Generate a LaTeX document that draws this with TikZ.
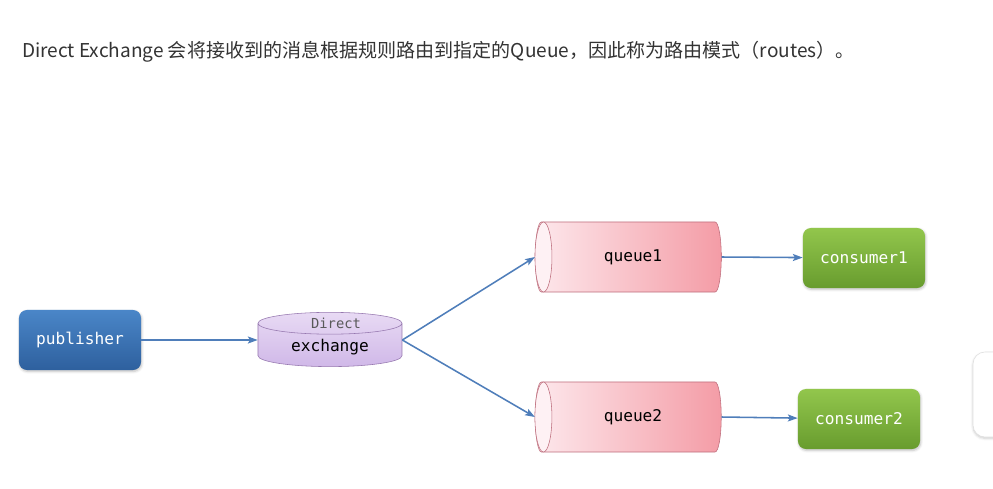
\documentclass[tikz,border=0pt]{standalone}
\usepackage{fontspec}
\newfontfamily\cjk{Noto Sans CJK SC}
\newfontfamily\codefont{DejaVu Sans Mono}
\usetikzlibrary{shapes.geometric,arrows.meta,shadows.blur,positioning}
\definecolor{linkblue}{RGB}{79,126,186}
\definecolor{pubtop}{RGB}{74,134,200}
\definecolor{pubbot}{RGB}{46,96,158}
\definecolor{contop}{RGB}{146,198,76}
\definecolor{conbot}{RGB}{104,156,46}
\definecolor{exlight}{RGB}{232,218,244}
\definecolor{exdark}{RGB}{208,184,232}
\definecolor{exline}{RGB}{150,120,175}
\definecolor{qlight}{RGB}{253,232,236}
\definecolor{qdark}{RGB}{244,156,166}
\definecolor{qline}{RGB}{190,110,125}
\definecolor{textgray}{RGB}{51,51,51}

\begin{document}
\begin{tikzpicture}[x=0.025cm, y=-0.025cm,
  >={Stealth[length=7pt,width=5pt,inset=1.5pt]},
  link/.style={->, draw=linkblue, line width=1.1pt},
  client/.style={rounded corners=0.2cm, minimum width=3.05cm, minimum height=1.5cm,
    text=white, font=\codefont\fontsize{11.5}{13}\selectfont,
    blur shadow={shadow blur steps=5, shadow xshift=0.5pt, shadow yshift=-1pt, shadow opacity=25}},
  pubbox/.style={client, top color=pubtop, bottom color=pubbot},
  conbox/.style={client, top color=contop, bottom color=conbot},
  queuebox/.style={cylinder, shape border rotate=180, draw=qline, line width=0.4pt,
    left color=qlight, right color=qdark, minimum height=4.65cm, minimum width=1.75cm,
    aspect=0.5, font=\codefont\fontsize{11.5}{13}\selectfont, text=black},
  exbox/.style={cylinder, shape border rotate=90, draw=exline, line width=0.4pt,
    top color=exlight, bottom color=exdark, minimum height=1.25cm, minimum width=3.6cm,
    aspect=0.25, font=\codefont\fontsize{11.5}{13}\selectfont, text=black}]
\useasboundingbox (0,0) rectangle (993,488);

% Heading
\node[anchor=base west, inner sep=0, text=textgray, font=\cjk\fontsize{13.55}{16}\selectfont]
  (title) at (22,57) {Direct Exchange 会将接收到的消息根据规则路由到指定的Queue，因此称为路由模式（routes）。};

% Publisher and exchange
\node[pubbox] (pub) at (80,340) {publisher};
\node[exbox] (ex) at (330,347) {exchange};
\node[text=black!65, font=\codefont\fontsize{9.8}{11}\selectfont, inner sep=0] (extype) at (336,323) {Direct};

% Queues
\node[queuebox] (q1) at (633,257) {queue1};
\node[queuebox] (q2) at (633,417) {queue2};
\fill[qlight!60!white, draw=qline, line width=0.4pt] (q1.top) ++(8.5,0) ellipse [x radius=8.5, y radius=35];
\fill[qlight!60!white, draw=qline, line width=0.4pt] (q2.top) ++(8.5,0) ellipse [x radius=8.5, y radius=35];

% Consumers
\node[conbox] (c1) at (864,258) {consumer1};
\node[conbox, minimum width=3.05cm] (c2) at (859,419) {consumer2};

% Links
\coordinate (exout) at (ex.east |- pub.east);
\draw[link] (pub.east) -- (ex.west |- pub.east);
\draw[link] (exout) -- (q1.west);
\draw[link] (exout) -- (q2.west);
\draw[link] (q1.east) -- (c1);
\draw[link] (q2.east) -- (c2);

% Side panel at the right edge
\begin{scope}
\clip (0,0) rectangle (993,488);
\draw[draw=black!12, fill=white, rounded corners=0.3cm,
  blur shadow={shadow blur steps=6, shadow xshift=0pt, shadow yshift=-1pt, shadow opacity=20}]
  (973,352) rectangle (1030,437);
\end{scope}
\end{tikzpicture}
\end{document}
